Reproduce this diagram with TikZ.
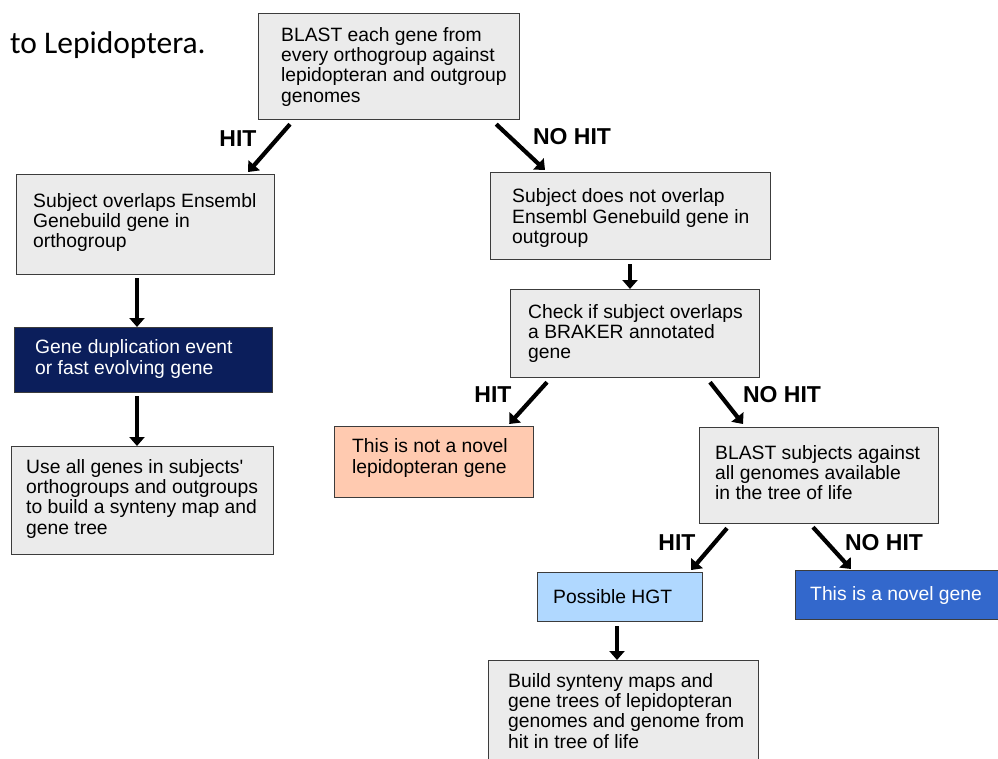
\documentclass[tikz,border=0pt]{standalone}
\usepackage{fontspec}
\setmainfont{Liberation Sans}
\newfontfamily\straightfont{Liberation Sans}
\newfontfamily\calfont{Carlito}
\usetikzlibrary{arrows.meta,calc}
\definecolor{boxgrey}{HTML}{EBEBEB}
\definecolor{boxline}{HTML}{3C3C3C}
\definecolor{navyfill}{HTML}{0B1E5B}
\definecolor{pinkfill}{HTML}{FFCAB0}
\definecolor{lbluefill}{HTML}{B0D8FF}
\definecolor{bluefill}{HTML}{3368CC}
\tikzset{
  gbox/.style={draw=boxline, line width=1.2pt, fill=boxgrey, anchor=north west, inner sep=0pt},
  txt/.style={anchor=west, align=left, inner sep=0pt, font=\fontsize{19.3}{20.3}\selectfont},
  lbl/.style={inner sep=0pt, font=\fontsize{23}{25}\selectfont\bfseries},
  arr/.style={line width=4.2pt, -{Triangle[width=15pt,length=9pt]}}
}
\begin{document}
\begin{tikzpicture}[x=1pt,y=-1pt]
\useasboundingbox (0,0) rectangle (998,758);
\clip (0,0) rectangle (998,758);
\fill[white] (0,0) rectangle (998,758);

% title fragment
\node[anchor=west, inner sep=0pt, font=\calfont\fontsize{31.5}{33}\selectfont] (title) at (10,45) {to Lepidoptera.};

% boxes
\node[gbox, minimum width=261pt, minimum height=106pt] (b1) at (258,13) {};
\node[txt] (t1) at ($(b1.west)+(23,0)$) {BLAST each gene from\\every orthogroup against\\lepidopteran and outgroup\\genomes};

\node[gbox, minimum width=258pt, minimum height=100pt] (b2) at (16,174) {};
\node[txt] (t2) at ($(b2.west)+(17,-2)$) {Subject overlaps Ensembl\\Genebuild gene in\\orthogroup};

\node[gbox, fill=navyfill, draw=boxline, minimum width=258pt, minimum height=65pt] (b4) at (14,327) {};
\node[txt, text=white] (t4) at ($(b4.west)+(21,-1)$) {Gene duplication event\\or fast evolving gene};

\node[gbox, minimum width=262pt, minimum height=108pt] (b5) at (11,446) {};
\node[txt] (t5) at ($(b5.west)+(15,-2)$) {Use all genes in subjects{\straightfont'}\\orthogroups and outgroups\\to build a synteny map and\\gene tree};

\node[gbox, minimum width=280pt, minimum height=87pt] (b3) at (490,172) {};
\node[txt] (t3) at ($(b3.west)+(22,2)$) {Subject does not overlap\\Ensembl Genebuild gene in\\outgroup};

\node[gbox, minimum width=249pt, minimum height=88pt] (b6) at (510,289) {};
\node[txt] (t6) at ($(b6.west)+(18,0)$) {Check if subject overlaps\\a BRAKER annotated\\gene};

\node[gbox, fill=pinkfill, minimum width=199pt, minimum height=71pt] (b7) at (334,426) {};
\node[txt] (t7) at ($(b7.west)+(18,-4)$) {This is not a novel\\lepidopteran gene};

\node[gbox, minimum width=239pt, minimum height=96pt] (b8) at (699,427) {};
\node[txt] (t8) at ($(b8.west)+(16,-3)$) {BLAST subjects against\\all genomes available\\in the tree of life};

\node[gbox, fill=lbluefill, minimum width=165pt, minimum height=49pt] (b9) at (537,572) {};
\node[txt] (t9) at ($(b9.west)+(16,-1)$) {Possible HGT};

\node[gbox, fill=bluefill, minimum width=205pt, minimum height=49pt] (b10) at (795,570) {};
\node[txt, text=white] (t10) at ($(b10.west)+(15,0)$) {This is a novel gene};

\node[gbox, minimum width=270pt, minimum height=120pt] (b11) at (488,660) {};
\node[txt, anchor=north west] (t11) at ($(b11.north west)+(20,13)$) {Build synteny maps and\\gene trees of lepidopteran\\genomes and genome from\\hit in tree of life};

% connectors
\draw[arr] ($(b1.south west)+(32,4)$) -- ($(b2.north east)+(-27,-2)$);
\draw[arr] ($(b1.south east)+(-24,4)$) -- ($(b3.north west)+(55,-2)$);
\draw[arr] ($(b2.south west)+(121,3)$) -- (b4.north -| {$(b2.south west)+(121,0)$});
\draw[arr] ($(b4.south west)+(123,3)$) -- (b5.north -| {$(b4.south west)+(123,0)$});
\draw[arr] ($(b3.south west)+(140,4)$) -- (b6.north -| {$(b3.south west)+(140,0)$});
\draw[arr] ($(b6.south west)+(37,4)$) -- ($(b7.north east)+(-25,-2)$);
\draw[arr] ($(b6.south west)+(200,4)$) -- ($(b8.north west)+(44,-3)$);
\draw[arr] ($(b8.south west)+(28,4)$) -- ($(b9.north east)+(-12,-2)$);
\draw[arr] ($(b8.south west)+(114,3)$) -- ($(b10.north west)+(56,-1)$);
\draw[arr] ($(b9.south west)+(80,4)$) -- (b11.north -| {$(b9.south west)+(80,0)$});

% labels
\node[lbl] (l1) at (238,139) {HIT};
\node[lbl] (l2) at (572,137) {NO HIT};
\node[lbl] (l3) at (493,395) {HIT};
\node[lbl] (l4) at (782,395) {NO HIT};
\node[lbl] (l5) at (677,543) {HIT};
\node[lbl] (l6) at (884,543) {NO HIT};
\end{tikzpicture}
\end{document}
